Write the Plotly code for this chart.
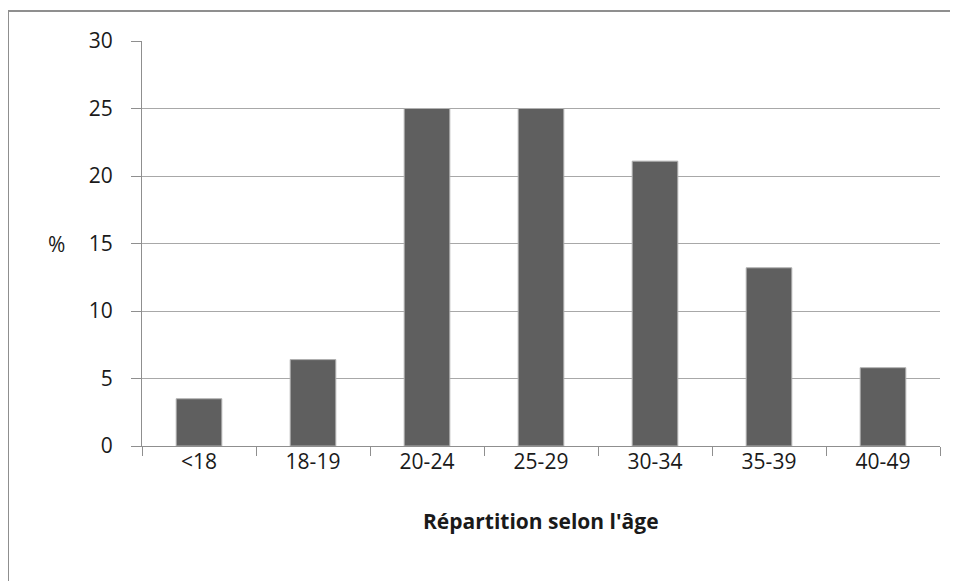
import plotly.graph_objects as go

categories = ["<18", "18-19", "20-24", "25-29", "30-34", "35-39", "40-49"]
values = [3.5, 6.4, 25.0, 25.0, 21.1, 13.2, 5.8]
y_ticks = [0, 5, 10, 15, 20, 25, 30]

# page has an 8px body margin, so figure coords = page coords - 8
OFF = 8
W, H = 950, 573
L, T = 142 - OFF, 41 - OFF
R = W - (940 - OFF)
B = H - (446 - OFF)
pw, ph = W - L - R, H - T - B

def px(x):
    return (x - OFF - L) / pw

def py(y):
    return (H - B - (y - OFF)) / ph

font = "'Open Sans', sans-serif"
grey = "#8f8f8f"

fig = go.Figure(go.Bar(
    x=categories, y=values,
    marker=dict(color="#5f5f5f", line=dict(color="#b0b0b0", width=1)),
))

fig.update_layout(
    width=W, height=H,
    margin=dict(l=L, r=R, t=T, b=B),
    paper_bgcolor="white", plot_bgcolor="white",
    bargap=0.6, showlegend=False,
    font=dict(family=font, size=21, color="#1a1a1a"),
    xaxis=dict(
        showline=True, linecolor=grey, linewidth=1,
        ticks="outside", ticklen=9, tickcolor=grey, tickson="boundaries",
        showgrid=False, ticklabelstandoff=-3,
    ),
    yaxis=dict(
        range=[0, 30], tickvals=y_ticks,
        showline=True, linecolor=grey, linewidth=1,
        ticks="outside", ticklen=10, tickcolor=grey,
        showgrid=True, gridcolor="#a8a8a8", gridwidth=1,
        zeroline=False, ticklabelstandoff=14,
    ),
    annotations=[
        dict(text="%", x=px(56), y=py(244), xref="paper", yref="paper",
             xanchor="center", yanchor="middle",
             showarrow=False, font=dict(size=21, family=font)),
        dict(text="<b>Répartition selon l'âge</b>", x=px(541), y=py(521),
             xref="paper", yref="paper", xanchor="center", yanchor="middle",
             showarrow=False, font=dict(size=21, family=font)),
    ],
    shapes=[
        dict(type="line", xref="paper", yref="paper",
             x0=px(8), x1=px(970), y0=py(11), y1=py(11),
             line=dict(color=grey, width=2)),
        dict(type="line", xref="paper", yref="paper",
             x0=px(8), x1=px(8), y0=py(11), y1=py(600),
             line=dict(color=grey, width=2)),
    ],
)

fig.write_html("out.html")
